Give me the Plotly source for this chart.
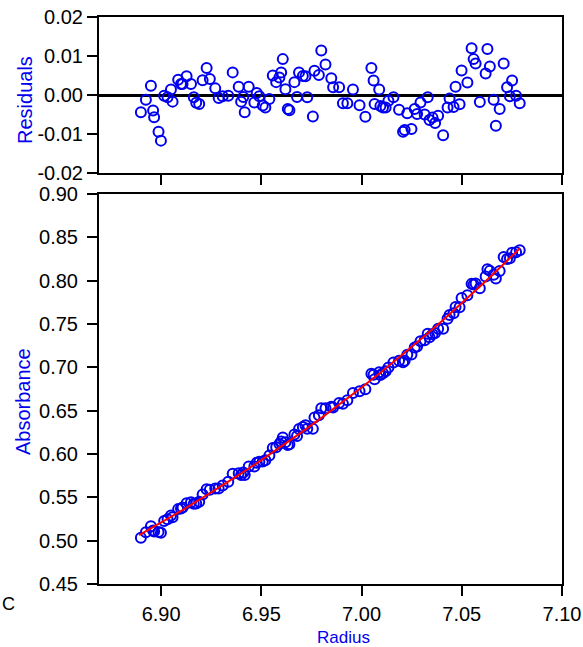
import plotly.graph_objects as go

# ---------------- data ----------------
radius = [6.8899, 6.8924, 6.8949, 6.8960, 6.8965, 6.8987, 6.8999, 6.9015, 6.9032, 6.9049,
          6.9057, 6.9085, 6.9099, 6.9107, 6.9127, 6.9149, 6.9163, 6.9175, 6.9190, 6.9207,
          6.9227, 6.9243, 6.9270, 6.9287, 6.9307, 6.9335, 6.9357, 6.9387, 6.9399, 6.9410,
          6.9417, 6.9437, 6.9465, 6.9477, 6.9490, 6.9507, 6.9520, 6.9540, 6.9557, 6.9574,
          6.9590, 6.9599, 6.9607, 6.9620, 6.9632, 6.9640, 6.9665, 6.9678, 6.9688, 6.9707,
          6.9720, 6.9729, 6.9757, 6.9765, 6.9787, 6.9799, 6.9820, 6.9849, 6.9858, 6.9888,
          6.9907, 6.9929, 6.9957, 6.9990, 7.0019, 7.0049, 7.0060, 7.0065, 7.0088, 7.0094,
          7.0107, 7.0120, 7.0134, 7.0159, 7.0187, 7.0207, 7.0215, 7.0228, 7.0249, 7.0265,
          7.0277, 7.0294, 7.0315, 7.0330, 7.0339, 7.0354, 7.0367, 7.0382, 7.0407, 7.0429,
          7.0439, 7.0459, 7.0469, 7.0489, 7.0499, 7.0528, 7.0549, 7.0559, 7.0569, 7.0590,
          7.0619, 7.0628, 7.0640, 7.0659, 7.0670, 7.0689, 7.0709, 7.0726, 7.0740, 7.0751,
          7.0771, 7.0789]

residuals = [-0.0044, -0.0012, 0.0024, -0.0040, -0.0057, -0.0094, -0.0117, -0.0002, -0.0006, 0.0014,
             -0.0017, 0.0039, 0.0028, 0.0028, 0.0048, 0.0028, -0.0006, -0.0020, -0.0023, 0.0038,
             0.0069, 0.0041, 0.0017, -0.0008, -0.0003, -0.0002, 0.0058, 0.0021, -0.0017, -0.0005,
             -0.0044, 0.0021, -0.0019, 0.0005, -0.0003, -0.0027, -0.0032, -0.0010, 0.0050, 0.0033,
             0.0045, 0.0058, 0.0092, 0.0015, -0.0036, -0.0039, 0.0033, -0.0005, 0.0058, 0.0049,
             0.0048, -0.0006, -0.0055, 0.0062, 0.0051, 0.0114, 0.0078, 0.0043, 0.0020, 0.0020,
             -0.0021, -0.0021, 0.0014, -0.0026, -0.0056, 0.0069, 0.0037, -0.0023, 0.0014, -0.0028,
             -0.0032, -0.0032, -0.0015, -0.0006, -0.0038, -0.0094, -0.0090, -0.0047, -0.0087, -0.0036,
             -0.0049, -0.0019, -0.0050, -0.0006, -0.0064, -0.0058, -0.0072, -0.0053, -0.0103, -0.0032,
             -0.0009, -0.0031, 0.0021, -0.0024, 0.0063, 0.0032, 0.0120, 0.0092, 0.0081, -0.0018,
             0.0055, 0.0118, 0.0073, -0.0012, -0.0079, -0.0036, 0.0081, 0.0020, -0.0003, 0.0037,
             -0.0002, -0.0021]

absorbance = [0.5033, 0.5098, 0.5167, 0.5117, 0.5107, 0.5099, 0.5092, 0.5228, 0.5247, 0.5290,
              0.5270, 0.5364, 0.5372, 0.5383, 0.5431, 0.5442, 0.5427, 0.5430, 0.5448, 0.5533,
              0.5593, 0.5588, 0.5603, 0.5602, 0.5636, 0.5679, 0.5771, 0.5779, 0.5759, 0.5787,
              0.5759, 0.5855, 0.5857, 0.5900, 0.5912, 0.5914, 0.5929, 0.5983, 0.6069, 0.6079,
              0.6116, 0.6143, 0.6190, 0.6135, 0.6103, 0.6113, 0.6226, 0.6209, 0.6288, 0.6311,
              0.6331, 0.6292, 0.6290, 0.6421, 0.6446, 0.6529, 0.6529, 0.6544, 0.6537, 0.6588,
              0.6580, 0.6620, 0.6704, 0.6723, 0.6746, 0.6926, 0.6914, 0.6863, 0.6942, 0.6911,
              0.6931, 0.6956, 0.6999, 0.7055, 0.7076, 0.7058, 0.7077, 0.7146, 0.7147, 0.7229,
              0.7240, 0.7302, 0.7313, 0.7387, 0.7347, 0.7383, 0.7395, 0.7444, 0.7444, 0.7561,
              0.7604, 0.7624, 0.7696, 0.7692, 0.7800, 0.7831, 0.7963, 0.7957, 0.7967, 0.7913,
              0.8049, 0.8131, 0.8113, 0.8069, 0.8026, 0.8111, 0.8272, 0.8250, 0.8258, 0.8323,
              0.8329, 0.8351]

fit_radius = [6.889, 6.90, 6.91, 6.92, 6.93, 6.94, 6.95, 6.96, 6.97, 6.98, 6.99,
              7.00, 7.01, 7.02, 7.03, 7.04, 7.05, 7.06, 7.07, 7.079]
fit_absorbance = [0.5065, 0.5210, 0.5345, 0.5485, 0.5629, 0.5777, 0.5930, 0.6087, 0.6250, 0.6417, 0.6589,
                  0.6767, 0.6950, 0.7138, 0.7333, 0.7533, 0.7739, 0.7952, 0.8171, 0.8375]

x_ticks = [6.90, 6.95, 7.00, 7.05, 7.10]
x_labels = ["6.90", "6.95", "7.00", "7.05", "7.10"]
res_ticks = [-0.02, -0.01, 0.0, 0.01, 0.02]
res_labels = ["-0.02", "-0.01", "0.00", "0.01", "0.02"]
abs_ticks = [0.45, 0.50, 0.55, 0.60, 0.65, 0.70, 0.75, 0.80, 0.85, 0.90]
abs_labels = ["0.45", "0.50", "0.55", "0.60", "0.65", "0.70", "0.75", "0.80", "0.85", "0.90"]

# ---------------- styling ----------------
W, H = 583, 647
BLUE = "#0000ee"
FONT = "Liberation Sans"
NARROW = "Liberation Sans Narrow, Arial Narrow, Liberation Sans"


def px(x):
    return x / W


def py(y):
    return 1 - y / H


fig = go.Figure()
marker = dict(symbol="circle-open", size=10, color=BLUE, line=dict(width=2, color=BLUE))
fig.add_trace(go.Scatter(x=radius, y=residuals, mode="markers", marker=marker,
                         xaxis="x", yaxis="y", hoverinfo="skip"))
fig.add_trace(go.Scatter(x=radius, y=absorbance, mode="markers", marker=marker,
                         xaxis="x2", yaxis="y2", hoverinfo="skip"))
fig.add_trace(go.Scatter(x=fit_radius, y=fit_absorbance, mode="lines",
                         line=dict(color="#ff0000", width=2),
                         xaxis="x2", yaxis="y2", hoverinfo="skip"))

axis_common = dict(showline=True, linecolor="black", linewidth=2, mirror=True,
                   ticks="outside", ticklen=10, tickwidth=2, tickcolor="black",
                   showgrid=False, zeroline=False, automargin=False,
                   tickfont=dict(family=NARROW, size=20, color="black"))

xdom = [px(99), px(562)]
xrange_ = [6.869, 7.10]

fig.update_layout(
    width=W, height=H,
    margin=dict(l=0, r=0, t=0, b=0),
    paper_bgcolor="white", plot_bgcolor="white",
    showlegend=False,
    xaxis=dict(axis_common, domain=xdom, range=xrange_, anchor="y",
               tickvals=x_ticks, showticklabels=False),
    yaxis=dict(axis_common, domain=[py(173), py(17)], range=[-0.02, 0.02], anchor="x",
               tickvals=res_ticks, ticktext=res_labels,
               zeroline=True, zerolinecolor="black", zerolinewidth=2.5,
               ticklabelstandoff=0),
    xaxis2=dict(axis_common, domain=xdom, range=xrange_, anchor="y2",
                tickvals=x_ticks, ticktext=x_labels, ticklabelstandoff=1),
    yaxis2=dict(axis_common, domain=[py(584), py(194)], range=[0.45, 0.90], anchor="x2",
                tickvals=abs_ticks, ticktext=abs_labels, ticklabelstandoff=5),
)

annotations = [
    dict(text="Residuals", x=px(25), y=py(100), textangle=-90,
         font=dict(family=FONT, size=20, color=BLUE)),
    dict(text="Absorbance", x=px(23), y=py(402), textangle=-90,
         font=dict(family=FONT, size=20, color=BLUE)),
    dict(text="Radius", x=px(343), y=py(637),
         font=dict(family=NARROW, size=17, color=BLUE)),
    dict(text="C", x=px(0), y=py(604), xanchor="left",
         font=dict(family=FONT, size=18, color="black")),
]
for a in annotations:
    a.update(xref="paper", yref="paper", showarrow=False, yanchor="middle")
    a.setdefault("xanchor", "center")
fig.update_layout(annotations=annotations)

fig.write_html("out.html")
